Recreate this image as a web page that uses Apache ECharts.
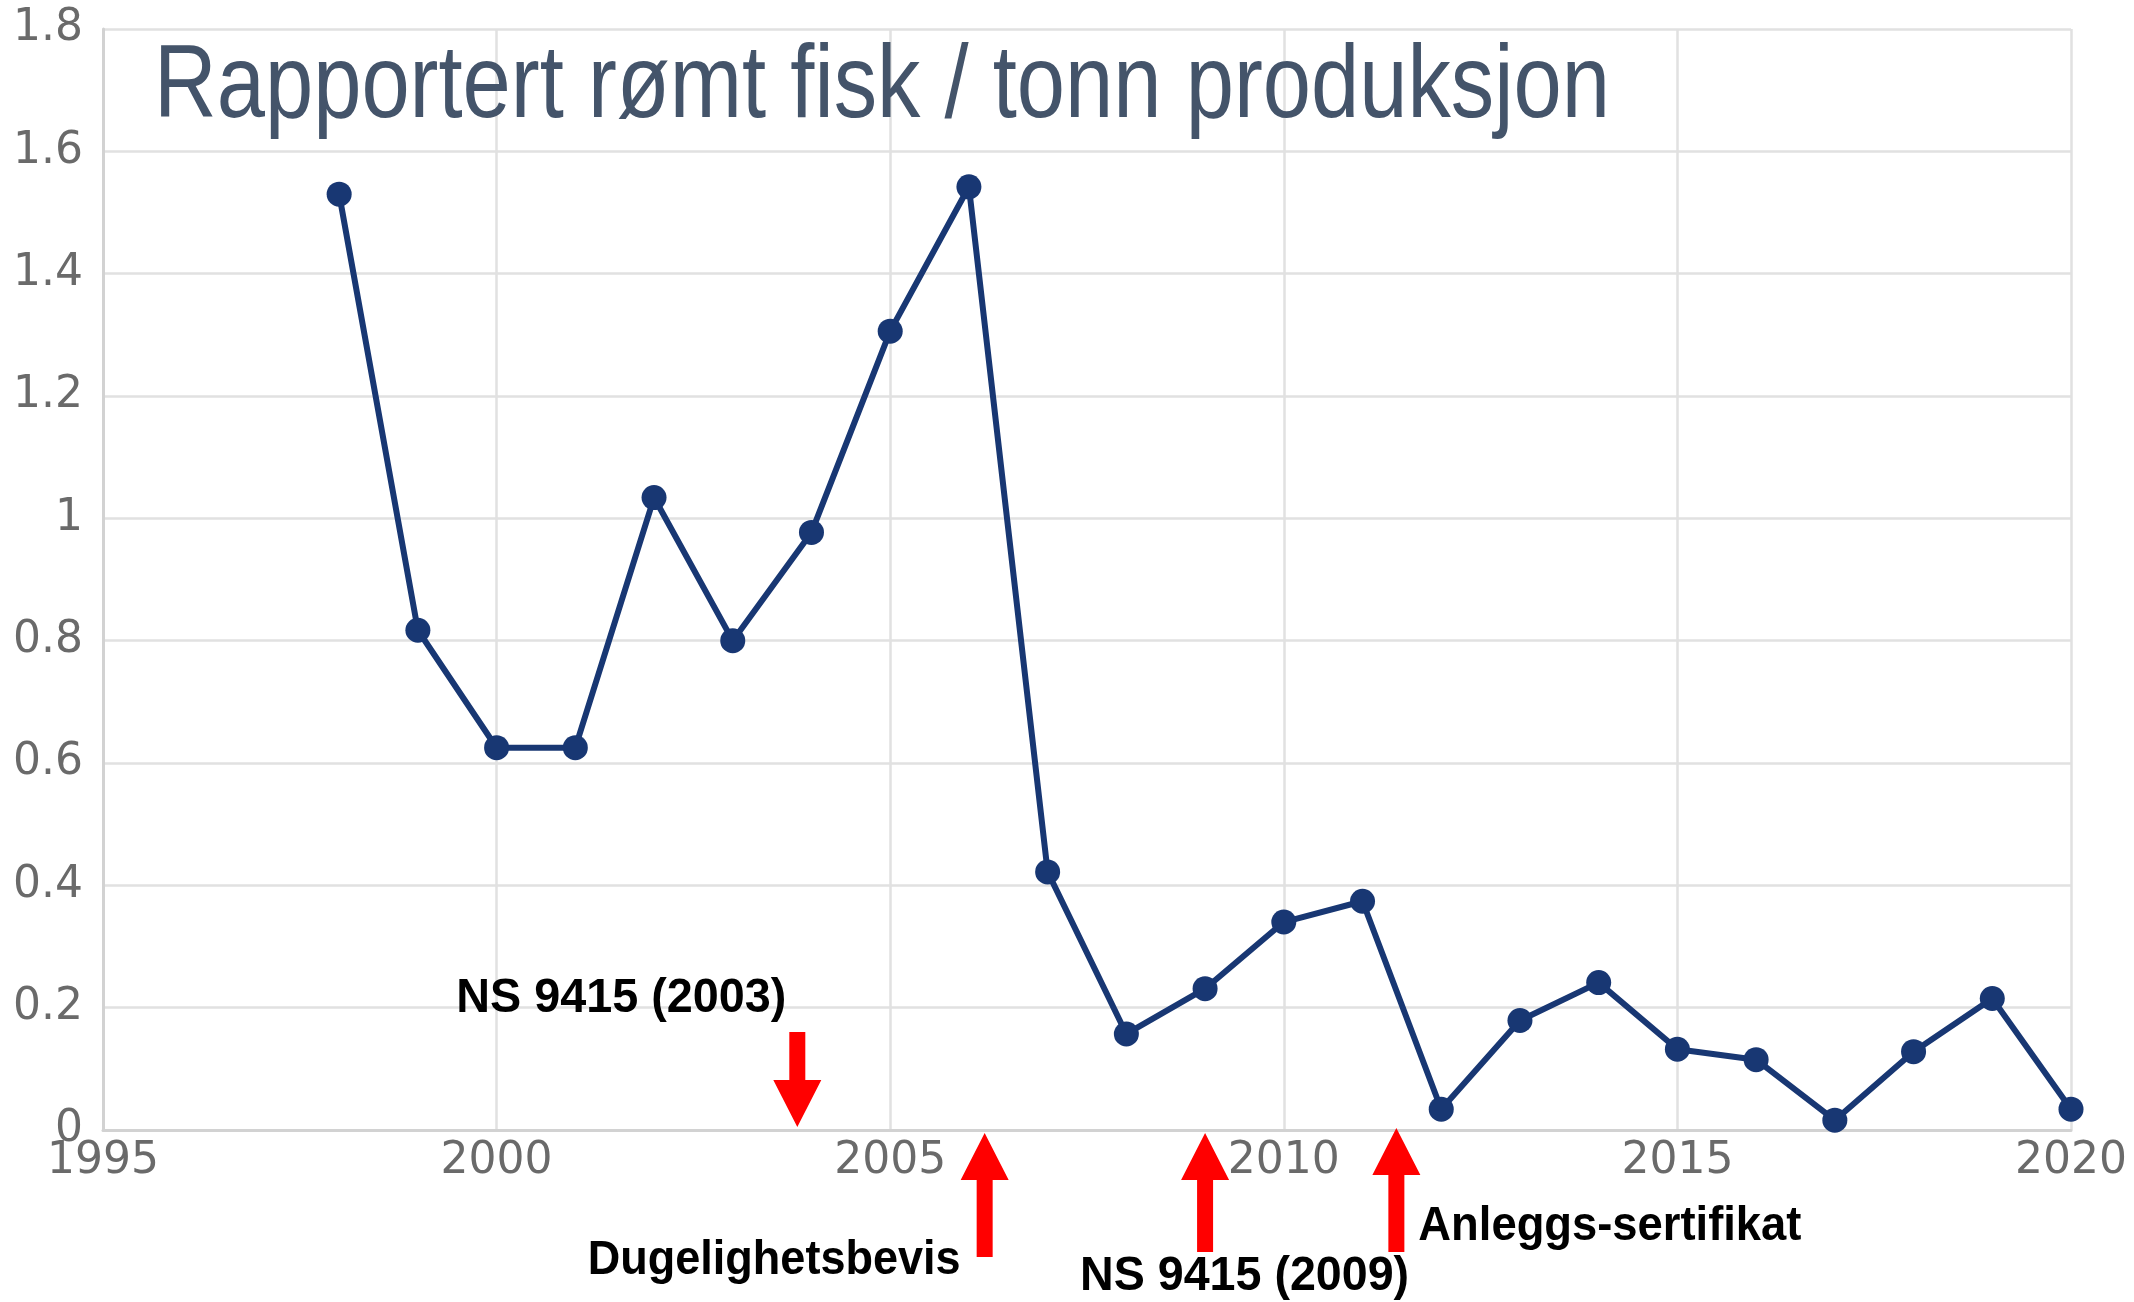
<!DOCTYPE html>
<html>
<head>
<meta charset="utf-8">
<script src="https://cdn.jsdelivr.net/npm/echarts@6/dist/echarts.min.js"></script>
<style>
  html, body { margin: 0; padding: 0; background: #ffffff; }
  #chart { width: 2134px; height: 1302px; }
</style>
</head>
<body>
<div id="chart"></div>
<script>
// ---- data ----
const years = [1998, 1999, 2000, 2001, 2002, 2003, 2004, 2005, 2006, 2007, 2008, 2009, 2010,
               2011, 2012, 2013, 2014, 2015, 2016, 2017, 2018, 2019, 2020];
const values = [1.53, 0.817, 0.625, 0.625, 1.034, 0.80, 0.977, 1.306, 1.542, 0.422, 0.157, 0.231, 0.34,
                0.374, 0.034, 0.179, 0.241, 0.132, 0.115, 0.016, 0.128, 0.215, 0.034];
const titleText = 'Rapportert rømt fisk / tonn produksjon';
const annotationLabels = ['NS 9415 (2003)', 'Dugelighetsbevis', 'NS 9415 (2009)', 'Anleggs-sertifikat'];
const annotationYears = [2003.82, 2006.2, 2009.0, 2011.43];
const annotationDirections = ['down', 'up', 'up', 'up'];

// ---- chart ----
const chart = echarts.init(document.getElementById('chart'), null, { renderer: 'canvas' });
const seriesData = years.map((y, i) => [y, values[i]]);

const option = {
  backgroundColor: '#ffffff',
  animation: false,
  grid: { left: 103, right: 63, top: 29, bottom: 172, containLabel: false },
  xAxis: {
    type: 'value', min: 1995, max: 2020, interval: 5,
    axisLine: { show: true, lineStyle: { color: '#d2d2d2', width: 3 } },
    axisTick: { show: false },
    splitLine: { show: true, lineStyle: { color: '#e1e1e1', width: 2.5 } },
    axisLabel: { color: '#6a6a6a', fontSize: 44, fontFamily: 'DejaVu Sans', margin: 10,
                 formatter: v => String(v) }
  },
  yAxis: {
    type: 'value', min: 0, max: 1.8, interval: 0.2,
    axisLine: { show: true, lineStyle: { color: '#d2d2d2', width: 3 } },
    axisTick: { show: false },
    splitLine: { show: true, lineStyle: { color: '#e1e1e1', width: 2.5 } },
    axisLabel: { color: '#6a6a6a', fontSize: 44, fontFamily: 'DejaVu Sans', margin: 20,
                 formatter: v => String(Math.round(v * 10) / 10) }
  },
  series: [{
    type: 'line',
    data: seriesData,
    symbol: 'circle',
    symbolSize: 25,
    showSymbol: true,
    lineStyle: { color: '#183773', width: 6 },
    itemStyle: { color: '#183773' },
    z: 5
  }]
};
chart.setOption(option);

// ---- text fitting helper ----
const mctx = document.createElement('canvas').getContext('2d');
function measure(text, weight, size, family) {
  mctx.font = weight + ' ' + size + 'px ' + family;
  return mctx.measureText(text).width;
}

const titleFamily = '"Liberation Sans Narrow", "Liberation Sans", Arial, sans-serif';
const annFamily = '"Liberation Sans Narrow", "Liberation Sans", Arial, sans-serif';

function fittedText(text, left, cy, size, weight, family, color, targetW) {
  const w = measure(text, weight, size, family);
  return {
    type: 'text',
    x: left, y: cy,
    scaleX: targetW / w, scaleY: 1,
    z: 100,
    style: {
      text: text, x: 0, y: 0,
      fontSize: size, fontWeight: weight, fontFamily: family,
      fill: color, align: 'left', verticalAlign: 'middle'
    }
  };
}

function arrowShape(cx, tipY, tailY, dir) {
  const shaftW = 16, headW = 48, headH = 47;
  const s = dir === 'down' ? 1 : -1;
  const baseY = tipY - s * headH;
  return {
    type: 'polygon', z: 100,
    shape: { points: [
      [cx - shaftW / 2, tailY], [cx + shaftW / 2, tailY],
      [cx + shaftW / 2, baseY], [cx + headW / 2, baseY],
      [cx, tipY],
      [cx - headW / 2, baseY], [cx - shaftW / 2, baseY]
    ] },
    style: { fill: '#ff0000' }
  };
}

function drawOverlay() {
  const axisY = chart.convertToPixel({ gridIndex: 0 }, [1995, 0])[1];
  const elements = [];
  elements.push(fittedText(titleText, 154, 88, 104, 'normal', titleFamily, '#44546a', 1456));

  const layout = [
    { tip: axisY - 3,  tail: axisY - 98,  textLeftOff: -341, textCy: axisY - 132, textW: 330 },
    { tip: axisY + 3,  tail: axisY + 127, textLeftOff: -397, textCy: axisY + 130, textW: 373 },
    { tip: axisY + 3,  tail: axisY + 122, textLeftOff: -125, textCy: axisY + 146, textW: 329 },
    { tip: axisY - 2,  tail: axisY + 122, textLeftOff: 22,   textCy: axisY + 96,  textW: 383 }
  ];
  annotationLabels.forEach((label, i) => {
    const cx = chart.convertToPixel({ gridIndex: 0 }, [annotationYears[i], 0])[0];
    const L = layout[i];
    elements.push(arrowShape(cx, L.tip, L.tail, annotationDirections[i]));
    elements.push(fittedText(label, cx + L.textLeftOff, L.textCy, 49, 'bold', annFamily, '#000000', L.textW));
  });
  chart.setOption({ graphic: { elements: elements } });
}
drawOverlay();
</script>
</body>
</html>
